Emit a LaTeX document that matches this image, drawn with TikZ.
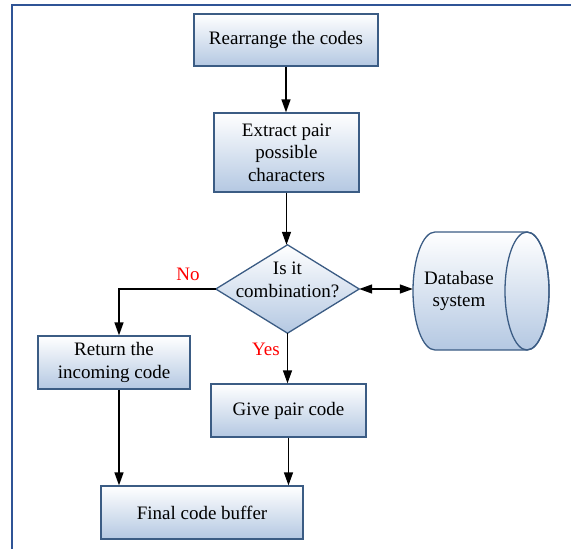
\documentclass[tikz,border=0pt]{standalone}
\usepackage{fontspec}
\setmainfont{Liberation Serif}
\usetikzlibrary{arrows.meta}

\definecolor{frameblue}{HTML}{2F5496}
\definecolor{edgeblue}{HTML}{3B5C84}
\definecolor{fillblue}{HTML}{B4C8E2}

\newcommand\labelfont{\fontsize{19}{22.5}\selectfont}

\tikzset{
  shade/.style={draw=edgeblue,line width=1.3pt,top color=white,bottom color=fillblue},
  box/.style={shade,align=center,font=\labelfont,inner sep=0pt},
  word/.style={align=center,font=\labelfont,inner sep=0pt},
  flow/.style={line width=1.4pt},
  answer/.style={text=red,font=\labelfont}
}

\begin{document}
\begin{tikzpicture}[x=1pt,y=-1pt,>={Triangle[length=13pt,width=9pt]}]
  \useasboundingbox (0,0) rectangle (571,549);

  % frame
  \draw[frameblue,line width=2.2pt] (12,549) -- (12,5) -- (571,5);

  % steps
  \node[box,minimum width=184,minimum height=52] (rearr) at (286,40) {Rearrange the codes};
  \node[box,minimum width=145,minimum height=79] (extract) at (286.5,152.5) {Extract pair\\possible\\characters};
  \coordinate (d) at (287.5,289);
  \node[inner sep=0pt,minimum width=143,minimum height=88] (dec) at (d) {};
  \draw[shade] (dec.north) -- (dec.east) -- (dec.south) -- (dec.west) -- cycle;
  \node[word] (dectext) at (287.5,280) {Is it\\combination?};
  \node[box,minimum width=152,minimum height=53] (ret) at (114,362.5) {Return the\\incoming code};
  \node[box,minimum width=155,minimum height=53] (give) at (288.5,410.5) {Give pair code};
  \node[box,minimum width=202,minimum height=53] (final) at (202,512.5) {Final code buffer};

  % database cylinder
  \node[inner sep=0pt,minimum width=136,minimum height=118] (db) at (481,291) {};
  \begin{scope}[shift={(db.center)},y=1pt]
    \draw[shade] (46,59) -- (-46,59) arc[start angle=90,end angle=270,x radius=22,y radius=59]
      -- (46,-59) arc[start angle=-90,end angle=90,x radius=22,y radius=59] -- cycle;
    \draw[edgeblue,line width=1.3pt] (46,0) ellipse[x radius=22,y radius=59];
  \end{scope}
  \node[word] (dbtext) at (459,291) {Database\\system};

  % connectors
  \draw[flow,->] (rearr.south) -- (rearr.south |- extract.north);
  \draw[flow,->] (extract.south) -- (extract.south |- dec.north);
  \draw[flow,<->] (dec.east) -- (dec.east -| db.west);
  \draw[flow,->] (dec.west) -| ([xshift=5]ret.north);
  \draw[flow,->] (dec.south) -- (dec.south |- give.north);
  \draw[flow,->] ([xshift=5]ret.south) -- ([xshift=5]ret.south |- final.north);
  \draw[flow,->] (give.south) -- (give.south |- final.north);

  % labels
  \node[answer] (no) at (188,274) {No};
  \node[answer] (yes) at (266,349) {Yes};
\end{tikzpicture}
\end{document}
